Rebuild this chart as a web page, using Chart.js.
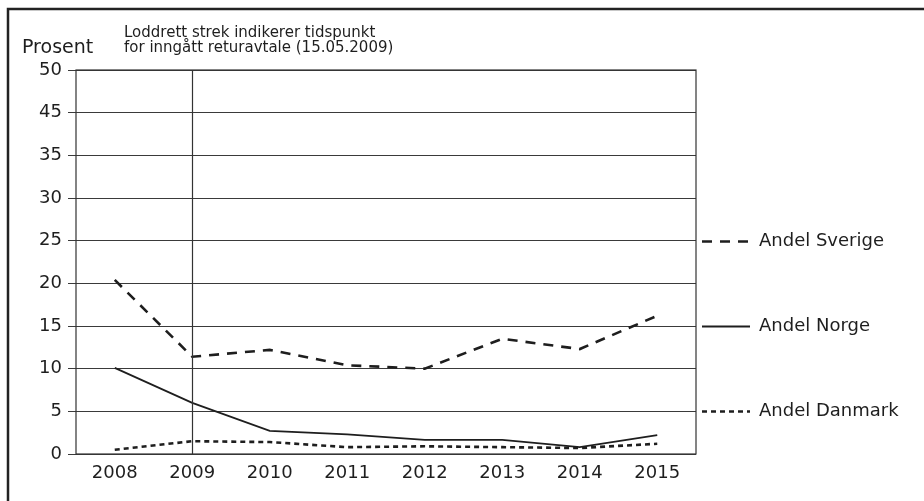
<!DOCTYPE html>
<html>
<head>
<meta charset="utf-8">
<script src="https://cdn.jsdelivr.net/npm/chart.js@4.4.1/dist/chart.umd.min.js"></script>
<style>
  html, body { margin: 0; padding: 0; background: #fff; }
  #wrap { position: relative; width: 924px; height: 501px; }
</style>
</head>
<body>
<div id="wrap"><canvas id="chart"></canvas></div>
<script>
// Data
const years = ['2008', '2009', '2010', '2011', '2012', '2013', '2014', '2015'];
const andelSverige = [20.4, 11.4, 12.2, 10.4, 10.0, 13.5, 12.3, 16.2];
const andelNorge = [10.1, 6.0, 2.7, 2.3, 1.65, 1.65, 0.8, 2.2];
const andelDanmark = [0.5, 1.5, 1.4, 0.8, 0.9, 0.8, 0.7, 1.2];
// the original prints these labels on its evenly spaced gridlines (no "40")
const yTickLabels = ['0', '5', '10', '15', '20', '25', '30', '35', '45', '50'];
const seriesNames = ['Andel Sverige', 'Andel Norge', 'Andel Danmark'];
const agreementYear = '2009';

const ink = '#1e1e1e';
const mainFont = 'DejaVu Sans';

// frame, plot box, vertical marker line, texts and the custom legend
const extras = {
  id: 'extras',
  afterDraw(chart) {
    const ctx = chart.ctx;
    const a = chart.chartArea;
    const x = chart.scales.x, y = chart.scales.y;
    ctx.save();

    // outer frame (top + left only)
    ctx.strokeStyle = '#222';
    ctx.lineWidth = 2.5;
    ctx.beginPath();
    ctx.moveTo(924, 9);
    ctx.lineTo(8, 9);
    ctx.lineTo(8, 501);
    ctx.stroke();

    // plot box
    ctx.lineWidth = 1.2;
    ctx.strokeStyle = '#333';
    ctx.strokeRect(a.left, a.top, a.right - a.left, a.bottom - a.top);

    // vertical line for the return agreement
    const vx = Math.round(x.getPixelForValue(years.indexOf(agreementYear))) + 0.5;
    ctx.beginPath();
    ctx.moveTo(vx, a.top);
    ctx.lineTo(vx, a.bottom);
    ctx.stroke();

    // texts
    ctx.fillStyle = ink;
    ctx.textBaseline = 'middle';
    ctx.textAlign = 'left';
    ctx.font = '19px "' + mainFont + '"';
    ctx.fillText('Prosent', 22, 48);
    ctx.textBaseline = 'alphabetic';
    ctx.font = '15px "' + mainFont + '"';
    ctx.fillText('Loddrett strek indikerer tidspunkt', 124, 37);
    ctx.fillText('for inngått returavtale (15.05.2009)', 124, 52);

    // legend, next to the 25 / 15 / 5 gridlines
    ctx.textBaseline = 'middle';
    const legendAt = [25, 15, 5];
    chart.data.datasets.forEach((ds, i) => {
      const ly = Math.round(y.getPixelForValue(legendAt[i])) + 0.5;
      ctx.strokeStyle = ink;
      ctx.lineWidth = ds.borderWidth;
      ctx.setLineDash(ds.borderDash || []);
      ctx.beginPath();
      ctx.moveTo(702, ly);
      ctx.lineTo(750, ly);
      ctx.stroke();
      ctx.setLineDash([]);
      ctx.font = '18px "' + mainFont + '"';
      ctx.fillText(ds.label, 759, ly);
    });
    ctx.restore();
  }
};

new Chart(document.getElementById('chart'), {
  type: 'line',
  data: {
    labels: years,
    datasets: [{
      label: seriesNames[0],
      data: andelSverige,
      borderColor: ink,
      borderWidth: 2.6,
      borderDash: [10, 8]
    }, {
      label: seriesNames[1],
      data: andelNorge,
      borderColor: ink,
      borderWidth: 1.8
    }, {
      label: seriesNames[2],
      data: andelDanmark,
      borderColor: ink,
      borderWidth: 2.6,
      borderDash: [5, 4]
    }]
  },
  options: {
    responsive: true,
    maintainAspectRatio: false,
    animation: false,
    layout: { padding: { left: 0, right: 228, top: 70, bottom: 0 } },
    elements: {
      point: { radius: 0 },
      line: { tension: 0, borderCapStyle: 'butt' }
    },
    plugins: {
      legend: { display: false },
      tooltip: { enabled: false }
    },
    scales: {
      x: {
        offset: true,
        grid: { display: false, drawTicks: false },
        border: { display: false },
        ticks: {
          color: ink,
          padding: 9,
          font: { family: mainFont, size: 18 }
        },
        afterFit(scale) { scale.height = 47; }
      },
      y: {
        min: 0,
        max: 45,
        grid: { color: '#3a3a3a', lineWidth: 1, tickLength: 8 },
        border: { display: false },
        ticks: {
          stepSize: 5,
          color: ink,
          padding: 6,
          font: { family: mainFont, size: 18 },
          callback: (v, i) => yTickLabels[i]
        },
        afterFit(scale) { scale.width = 76; }
      }
    }
  },
  plugins: [extras]
});
</script>
</body>
</html>
